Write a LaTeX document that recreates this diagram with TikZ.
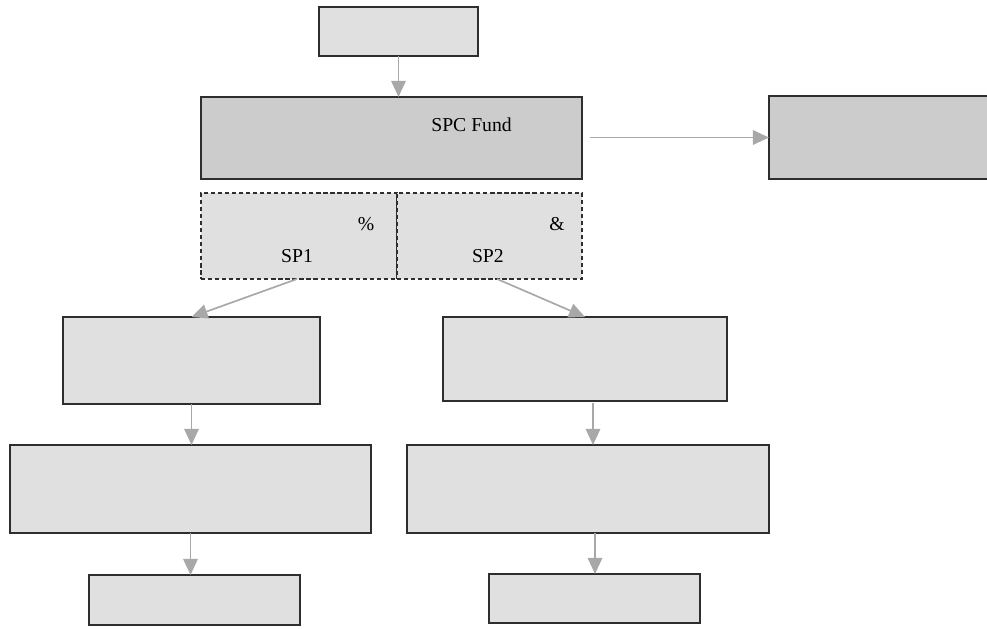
\documentclass[tikz,border=0pt]{standalone}
\usepackage{fontspec}
\setmainfont{Liberation Serif}
\usepackage{xcolor}
\usetikzlibrary{arrows.meta}

\definecolor{boxfill}{HTML}{E0E0E0}
\definecolor{darkfill}{HTML}{CCCCCC}
\definecolor{arrowgray}{HTML}{A8A8A8}
\definecolor{edge}{HTML}{2E2E2E}

\begin{document}
\begin{tikzpicture}[x=0.025cm,y=-0.025cm,
  box/.style={draw=edge,line width=0.9pt,fill=boxfill,inner sep=0pt,outer sep=0pt},
  darkbox/.style={box,fill=darkfill},
  dashbox/.style={box,densely dashed},
  flow/.style={draw=arrowgray,line width=1.2pt,-{Triangle[length=0.4cm,width=0.36cm]}},
  txt/.style={inner sep=0pt,font=\fontsize{14}{16}\selectfont}]

\useasboundingbox (0,0) rectangle (987,629);

\node[box,minimum width=3.975cm,minimum height=1.225cm](top)at(398.5,31.5){};
\node[darkbox,minimum width=9.525cm,minimum height=2.05cm](fund)at(391.5,138){};
\node[darkbox,minimum width=5.525cm,minimum height=2.075cm](side)at(879.5,137.5){};%% runs off the page
\node[dashbox,minimum width=4.9cm,minimum height=2.15cm](sp1)at(299,236){};
\node[dashbox,minimum width=4.625cm,minimum height=2.15cm](sp2)at(489.5,236){};

\node[box,minimum width=6.425cm,minimum height=2.175cm](L1)at(191.5,360.5){};
\node[box,minimum width=9.025cm,minimum height=2.2cm](L2)at(190.5,489){};
\node[box,minimum width=5.275cm,minimum height=1.25cm](L3)at(194.5,600){};
\node[box,minimum width=7.1cm,minimum height=2.1cm](R1)at(585,359){};
\node[box,minimum width=9.05cm,minimum height=2.2cm](R2)at(588,489){};
\node[box,minimum width=5.275cm,minimum height=1.225cm](R3)at(594.5,598.5){};

\node[txt](fundtxt)at([xshift=2cm,yshift=0.33cm]fund.center){SPC Fund};
\node[txt](pct)at([xshift=1.675cm,yshift=0.3cm]sp1.center){\%};
\node[txt](sp1txt)at([xshift=-0.05cm,yshift=-0.5cm]sp1.center){SP1};
\node[txt](amp)at([xshift=1.69cm,yshift=0.3cm]sp2.center){\&};
\node[txt](sp2txt)at([xshift=-0.04cm,yshift=-0.5cm]sp2.center){SP2};

\draw[flow](top.south)--(top.south|-fund.north);
\draw[flow,shorten <=0.2cm](fund.east|-side.west)--(side.west);
\draw[flow]([xshift=-0.05cm]sp1.south)--(L1.north);
\draw[flow]([xshift=0.19cm]sp2.south)--(R1.north);
\draw[flow](L1.south)--(L1.south|-L2.north);
\draw[flow](L2.south)--(L2.south|-L3.north);
\draw[flow]([xshift=0.2cm,yshift=-0.05cm]R1.south)--([xshift=0.2cm]R1.south|-R2.north);
\draw[flow]([xshift=0.175cm]R2.south)--([xshift=0.175cm]R2.south|-R3.north);
\end{tikzpicture}
\end{document}
